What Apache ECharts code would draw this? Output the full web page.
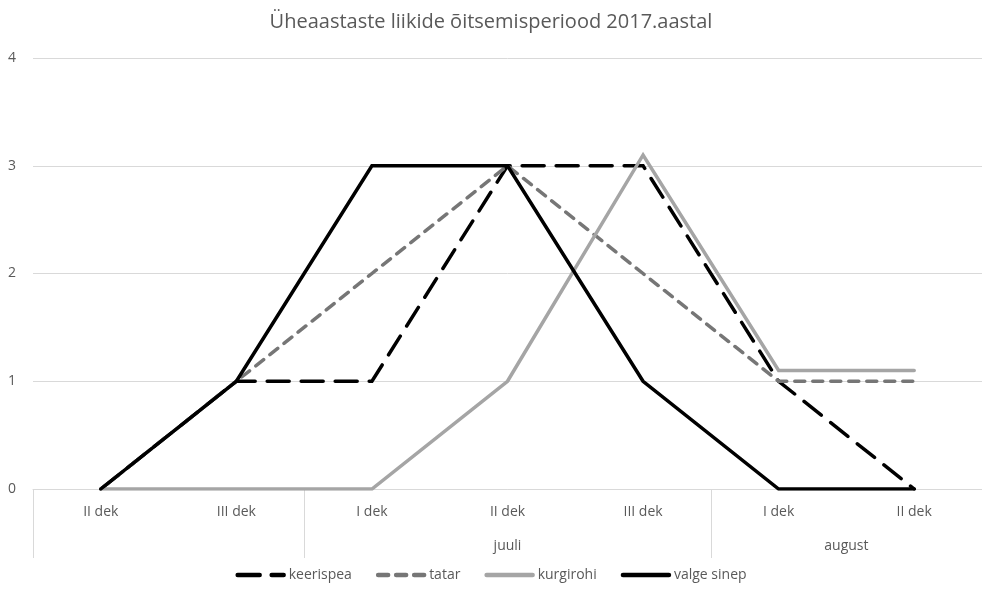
<!DOCTYPE html>
<html><head><meta charset="utf-8">
<script src="https://cdn.jsdelivr.net/npm/echarts@6/dist/echarts.min.js"></script>
<style>html,body{margin:0;padding:0;background:#fff}#c{width:982px;height:593px}</style>
</head><body><div id="c"></div>
<script>
const titleText = 'Üheaastaste liikide õitsemisperiood 2017.aastal';
const categories = ['II dek','III dek','I dek','II dek','III dek','I dek','II dek'];
const groups = ['', 'juuli', 'august'];
const groupBounds = [0, 2, 5, 7];
const keerispea = [0, 1, 1, 3, 3, 1, 0];
const tatar = [0, 1, 2, 3, 2, 1, 1];
const kurgirohi = [0, 0, 0, 1, 3.1, 1.1, 1.1];
const valgeSinep = [0, 1, 3, 3, 1, 0, 0];
const yTicks = [0, 1, 2, 3, 4];

const groupCenters = groups.map((g, i) => (groupBounds[i] + groupBounds[i+1]) / 2);
const font = '"Open Sans", "Liberation Sans", sans-serif';
const chart = echarts.init(document.getElementById('c'));
function ser(name, data, color, type) {
  return {
    name, type: 'line', data, symbol: 'none', showSymbol: false, xAxisIndex: 0,
    lineStyle: { color, width: 3.5, type, cap: 'round', join: 'miter' },
    itemStyle: { color },
    animation: false
  };
}
chart.setOption({
  animation: false,
  textStyle: { fontFamily: font },
  title: { text: titleText, left: 'center', top: 7,
    textStyle: { fontFamily: font, fontSize: 20, fontWeight: 'normal', color: '#595959' } },
  grid: { left: 33, right: 0, top: 58, bottom: 104, containLabel: false },
  legend: {
    bottom: 6, left: 'center', itemWidth: 46, itemHeight: 10, itemGap: 24,
    itemStyle: { opacity: 0 },
    lineStyle: { width: 4.5 },
    textStyle: { fontFamily: font, fontSize: 14, color: '#595959' },
    data: ['keerispea','tatar','kurgirohi','valge sinep']
  },
  xAxis: [
    { type: 'category', data: categories, boundaryGap: true,
      axisLine: { show: true, lineStyle: { color: '#d9d9d9', width: 1 } },
      axisTick: { show: false },
      axisLabel: { color: '#595959', fontSize: 14, margin: 16, fontFamily: font, interval: 0 },
      splitLine: { show: false } },
    { type: 'value', min: 0, max: 7, position: 'bottom',
      axisLine: { show: false },
      axisTick: { show: true, customValues: groupBounds, length: 69, inside: false,
        lineStyle: { color: '#d9d9d9', width: 1 } },
      axisLabel: { show: true, customValues: groupCenters, margin: 50, color: '#595959', fontSize: 14,
        fontFamily: font,
        formatter: v => { const i = groupCenters.indexOf(v); return i >= 0 ? groups[i] : ''; } },
      splitLine: { show: false } }
  ],
  yAxis: {
    type: 'value', min: yTicks[0], max: yTicks[yTicks.length-1], interval: 1,
    axisLine: { show: false }, axisTick: { show: false },
    axisLabel: { color: '#595959', fontSize: 14, margin: 17, fontFamily: font },
    splitLine: { lineStyle: { color: '#d9d9d9', width: 1 } }
  },
  series: [
    ser('keerispea', keerispea, '#000000', [22, 12]),
    ser('tatar', tatar, '#767676', [10, 8]),
    ser('kurgirohi', kurgirohi, '#a5a5a5', 'solid'),
    ser('valge sinep', valgeSinep, '#000000', 'solid')
  ]
});
</script></body></html>
